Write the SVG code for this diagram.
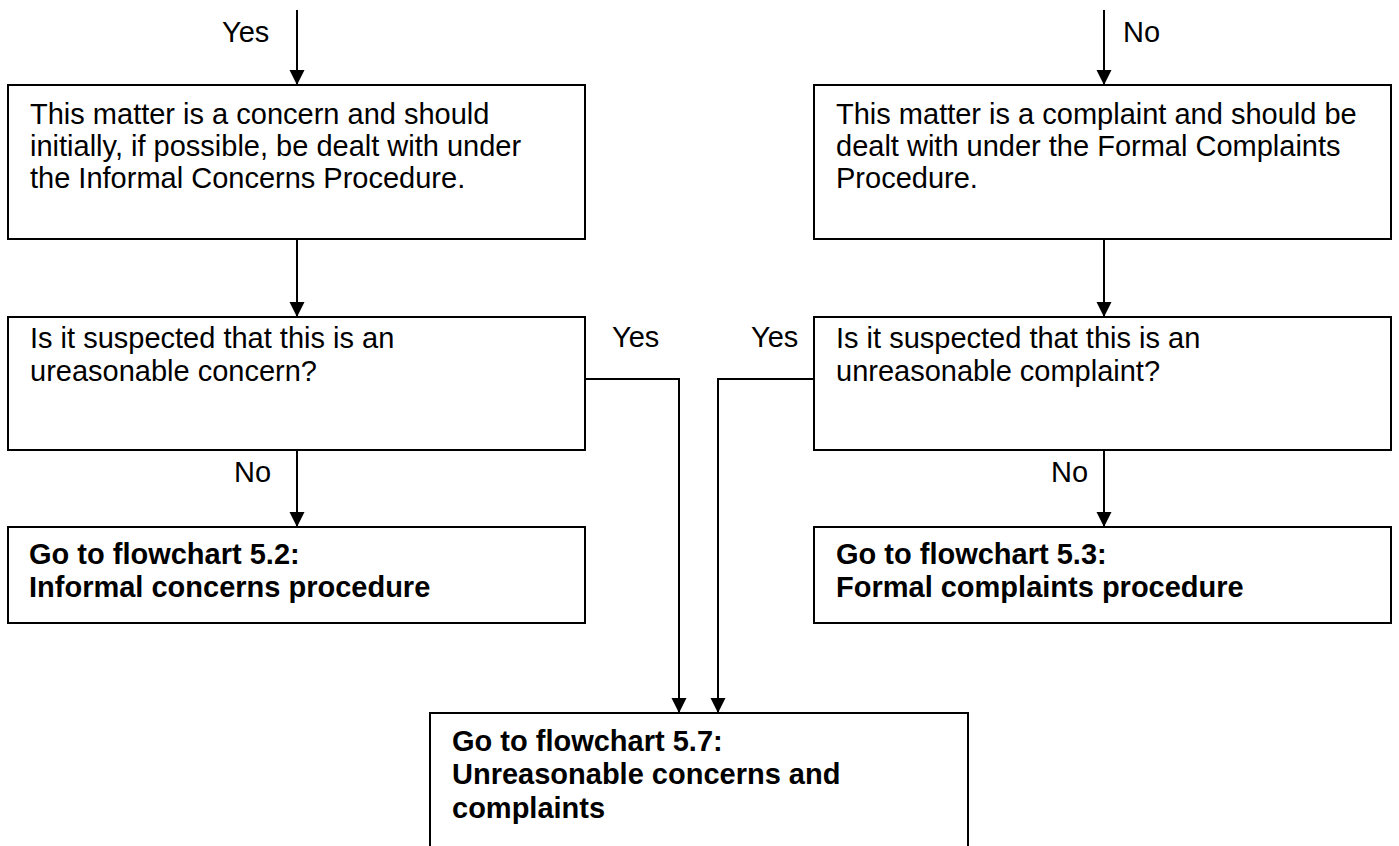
<svg xmlns="http://www.w3.org/2000/svg" width="1399" height="846" viewBox="0 0 1399 846">
  <style>
    .box { fill: #ffffff; stroke: #000000; stroke-width: 2; }
    .t { font-family: "Liberation Sans", Arial, sans-serif; font-size: 29px; fill: #000000; }
    .b { font-weight: bold; }
    .edge { fill: none; stroke: #000000; stroke-width: 2; }
  </style>
  <defs>
    <marker id="arrow" markerUnits="userSpaceOnUse" markerWidth="16" markerHeight="16" refX="15" refY="7.5" orient="auto">
      <path d="M0,0 L15,7.5 L0,15 z" fill="#000000"/>
    </marker>
  </defs>
  <rect x="0" y="0" width="1399" height="846" fill="#ffffff"/>

  <g id="connectors">
    <line class="edge" x1="297" y1="10" x2="297" y2="85" marker-end="url(#arrow)"/>
    <line class="edge" x1="1104" y1="10" x2="1104" y2="85" marker-end="url(#arrow)"/>
    <line class="edge" x1="297" y1="239" x2="297" y2="317" marker-end="url(#arrow)"/>
    <line class="edge" x1="1104" y1="239" x2="1104" y2="317" marker-end="url(#arrow)"/>
    <line class="edge" x1="297" y1="450" x2="297" y2="527" marker-end="url(#arrow)"/>
    <line class="edge" x1="1104" y1="450" x2="1104" y2="527" marker-end="url(#arrow)"/>
    <polyline class="edge" points="585,379 679,379 679,713" marker-end="url(#arrow)"/>
    <polyline class="edge" points="814,379 718,379 718,713" marker-end="url(#arrow)"/>
    <text class="t" x="222" y="42">Yes</text>
    <text class="t" x="1123" y="42">No</text>
    <text class="t" x="612" y="347">Yes</text>
    <text class="t" x="751" y="347">Yes</text>
    <text class="t" x="234" y="482">No</text>
    <text class="t" x="1051" y="482">No</text>
  </g>

  <g id="concern">
    <rect class="box" x="8" y="85" width="577" height="154"/>
    <text class="t" x="30" y="124">This matter is a concern and should</text>
    <text class="t" x="30" y="156">initially, if possible, be dealt with under</text>
    <text class="t" x="30" y="188">the Informal Concerns Procedure.</text>
  </g>

  <g id="complaint">
    <rect class="box" x="814" y="85" width="577" height="154"/>
    <text class="t" x="836" y="124">This matter is a complaint and should be</text>
    <text class="t" x="836" y="156">dealt with under the Formal Complaints</text>
    <text class="t" x="836" y="188">Procedure.</text>
  </g>

  <g id="unreasonable-concern">
    <rect class="box" x="8" y="317" width="577" height="133"/>
    <text class="t" x="30" y="348">Is it suspected that this is an</text>
    <text class="t" x="30" y="381">ureasonable concern?</text>
  </g>

  <g id="unreasonable-complaint">
    <rect class="box" x="814" y="317" width="577" height="133"/>
    <text class="t" x="836" y="348">Is it suspected that this is an</text>
    <text class="t" x="836" y="381">unreasonable complaint?</text>
  </g>

  <g id="flowchart-5-2">
    <rect class="box" x="8" y="527" width="577" height="96"/>
    <text class="t b" x="29" y="564">Go to flowchart 5.2:</text>
    <text class="t b" x="29" y="597">Informal concerns procedure</text>
  </g>

  <g id="flowchart-5-3">
    <rect class="box" x="814" y="527" width="577" height="96"/>
    <text class="t b" x="836" y="564">Go to flowchart 5.3:</text>
    <text class="t b" x="836" y="597">Formal complaints procedure</text>
  </g>

  <g id="flowchart-5-7">
    <rect class="box" x="430" y="713" width="538" height="150"/>
    <text class="t b" x="452" y="751">Go to flowchart 5.7:</text>
    <text class="t b" x="452" y="784">Unreasonable concerns and</text>
    <text class="t b" x="452" y="818">complaints</text>
  </g>
</svg>
